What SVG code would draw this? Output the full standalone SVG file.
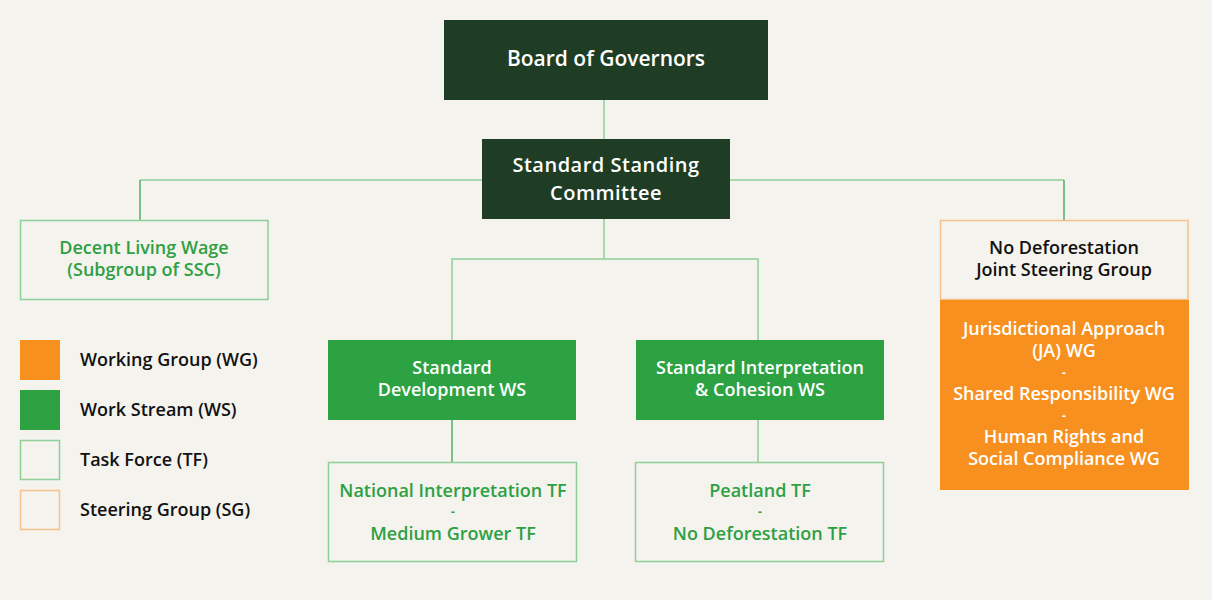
<svg xmlns="http://www.w3.org/2000/svg" width="1212" height="600" viewBox="0 0 1212 600">
<style>
text{font-family:"Open Sans","Noto Sans","Liberation Sans",sans-serif;font-weight:600;text-anchor:middle;dominant-baseline:central}
.dark{fill:#1f3d24}
.ws{fill:#2ca243}
.wg{fill:#f7901e}
.tf{fill:#f4f3ee;stroke:#8fcf98;stroke-width:1.5}
.sg{fill:#f4f3ee;stroke:#f7c08a;stroke-width:1.5}
.w{fill:#ffffff}
.g{fill:#2ea043}
.k{fill:#111111}
.big{font-size:21px}
.ssc{font-size:20px;letter-spacing:0.5px}
.mid{font-size:18px}
.dash{font-size:12px;font-weight:700}
.leg{font-size:18px;text-anchor:start}
.c{fill:none;stroke:#8fcf98;stroke-width:1.5}
.cd{fill:none;stroke:#3aa650;stroke-width:1.3}
</style>
<rect width="1212" height="600" fill="#f4f3ee"/>
<g id="connectors">
<path class="c" d="M604 100V139"/>
<path class="c" d="M140 180H482M730 180H1064"/>
<path class="cd" d="M140 180V220M1064 180V220"/>
<path class="c" d="M604 219V259H452V340M604 259H758V340"/>
<path class="cd" d="M452 420V462"/>
<path class="c" d="M758 420V462"/>
</g>
<g id="board">
<rect class="dark" x="444" y="20" width="324" height="80"/>
<text class="w big" x="606" y="58">Board of Governors</text>
</g>
<g id="ssc">
<rect class="dark" x="482" y="139" width="248" height="80"/>
<text class="w ssc"><tspan x="606" y="164">Standard Standing</tspan><tspan x="606" y="191.5">Committee</tspan></text>
</g>
<g id="dlw">
<rect class="tf" x="20.5" y="220.5" width="247.5" height="79"/>
<text class="g mid"><tspan x="144" y="247">Decent Living Wage</tspan><tspan x="144" y="269">(Subgroup of SSC)</tspan></text>
</g>
<g id="ndjsg">
<rect class="sg" x="940.5" y="220.5" width="247.5" height="79"/>
<text class="k mid"><tspan x="1064" y="247">No Deforestation</tspan><tspan x="1064" y="269">Joint Steering Group</tspan></text>
</g>
<g id="wgs">
<rect class="wg" x="940" y="300" width="249" height="190"/>
<text class="w mid"><tspan x="1064" y="328">Jurisdictional Approach</tspan><tspan x="1064" y="350">(JA) WG</tspan><tspan class="dash" x="1064" y="372">-</tspan><tspan x="1064" y="393">Shared Responsibility WG</tspan><tspan class="dash" x="1064" y="415">-</tspan><tspan x="1064" y="436">Human Rights and</tspan><tspan x="1064" y="458">Social Compliance WG</tspan></text>
</g>
<g id="sdws">
<rect class="ws" x="328" y="340" width="248" height="80"/>
<text class="w mid"><tspan x="452" y="367">Standard</tspan><tspan x="452" y="389">Development WS</tspan></text>
</g>
<g id="siws">
<rect class="ws" x="636" y="340" width="248" height="80"/>
<text class="w mid"><tspan x="760" y="367">Standard Interpretation</tspan><tspan x="760" y="389">&amp; Cohesion WS</tspan></text>
</g>
<g id="tf1">
<rect class="tf" x="328.5" y="462.5" width="248" height="99"/>
<text class="g mid"><tspan x="453" y="490">National Interpretation TF</tspan><tspan class="dash" x="453" y="511">-</tspan><tspan x="453" y="533">Medium Grower TF</tspan></text>
</g>
<g id="tf2">
<rect class="tf" x="635.5" y="462.5" width="248" height="99"/>
<text class="g mid"><tspan x="760" y="490">Peatland TF</tspan><tspan class="dash" x="760" y="511">-</tspan><tspan x="760" y="533">No Deforestation TF</tspan></text>
</g>
<g id="legend">
<rect class="wg" x="20" y="340" width="40" height="40"/>
<text class="k leg" x="80" y="359">Working Group (WG)</text>
<rect class="ws" x="20" y="390" width="40" height="40"/>
<text class="k leg" x="80" y="409">Work Stream (WS)</text>
<rect class="tf" x="20.5" y="440.5" width="39" height="39"/>
<text class="k leg" x="80" y="459">Task Force (TF)</text>
<rect class="sg" x="20.5" y="490.5" width="39" height="39"/>
<text class="k leg" x="80" y="509">Steering Group (SG)</text>
</g>
</svg>
